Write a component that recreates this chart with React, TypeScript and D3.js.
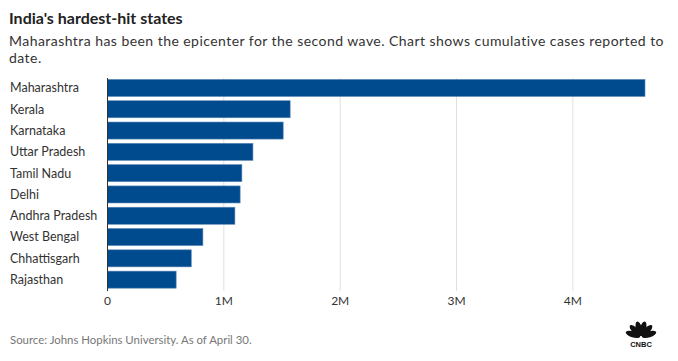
import React from "react";
import * as d3 from "d3";

const states = [
  "Maharashtra",
  "Kerala",
  "Karnataka",
  "Uttar Pradesh",
  "Tamil Nadu",
  "Delhi",
  "Andhra Pradesh",
  "West Bengal",
  "Chhattisgarh",
  "Rajasthan",
];
const cases = [4620000, 1570000, 1510000, 1250000, 1155000, 1140000, 1095000, 820000, 720000, 590000];
const ticks = [0, 1000000, 2000000, 3000000, 4000000];
const tickLabels = ["0", "1M", "2M", "3M", "4M"];

const W = 678;
const H = 361;
const FONT = "Lato, 'Open Sans', sans-serif";

const Logo = ({ x, y }: { x: number; y: number }) => {
  // rough peacock mark
  const angles = [-72, -43, -14, 14, 43, 72];
  return (
    <g transform={`translate(${x},${y})`}>
      {angles.map((a, i) => (
        <ellipse
          key={i}
          cx={0}
          cy={-8.5}
          rx={3}
          ry={7.5}
          fill="#111"
          transform={`rotate(${a})`}
        />
      ))}
      <text x={0} y={10} textAnchor="middle" fontFamily="Arial, sans-serif" fontWeight="bold" fontSize={7.5} fill="#111">
        CNBC
      </text>
    </g>
  );
};

const App = () => {
  const left = 107.5;
  const right = 645;
  const x = d3.scaleLinear().domain([0, d3.max(cases) as number]).range([left, right]);
  const y = d3
    .scaleBand()
    .domain(states)
    .range([77.3, 290.3])
    .paddingInner(0.2)
    .paddingOuter(0.1);

  return (
    <svg
      width={W}
      height={H}
      style={{ position: "absolute", left: 0, top: 0, background: "#fff" }}
      fontFamily={FONT}
    >
      <text x={9} y={24.3} fontSize={16} fontWeight="bold" fill="#222">
        India's hardest-hit states
      </text>
      <text x={9} y={45.7} fontSize={14} fill="#333" letterSpacing={0.45}>
        Maharashtra has been the epicenter for the second wave. Chart shows cumulative cases reported to
      </text>
      <text x={9} y={62.5} fontSize={14} fill="#333" letterSpacing={0.45}>
        date.
      </text>

      {ticks.map((t, i) => (
        <g key={t}>
          {i > 0 && (
            <line x1={x(t)} x2={x(t)} y1={78} y2={291} stroke="#e0e0e0" strokeWidth={1} />
          )}
          <text x={x(t)} y={305} textAnchor="middle" fontSize={12} fill="#333">
            {tickLabels[i]}
          </text>
        </g>
      ))}

      {states.map((s, i) => (
        <g key={s}>
          <rect
            x={x(0)}
            y={y(s)}
            width={x(cases[i]) - x(0)}
            height={y.bandwidth()}
            fill="#004b8d"
            stroke="#5a86b6"
            strokeWidth={0.6}
          />
          <text
            x={10}
            y={(y(s) as number) + y.bandwidth() / 2}
            dy="0.35em"
            fontSize={12.5}
            fill="#333"
          >
            {s}
          </text>
        </g>
      ))}
      <line x1={x(0)} x2={x(0)} y1={78} y2={291} stroke="#333" strokeWidth={1} />

      <text x={10} y={344} fontSize={11.4} fill="#777">
        Source: Johns Hopkins University. As of April 30.
      </text>
      <Logo x={641} y={337} />
    </svg>
  );
};

export default App;
